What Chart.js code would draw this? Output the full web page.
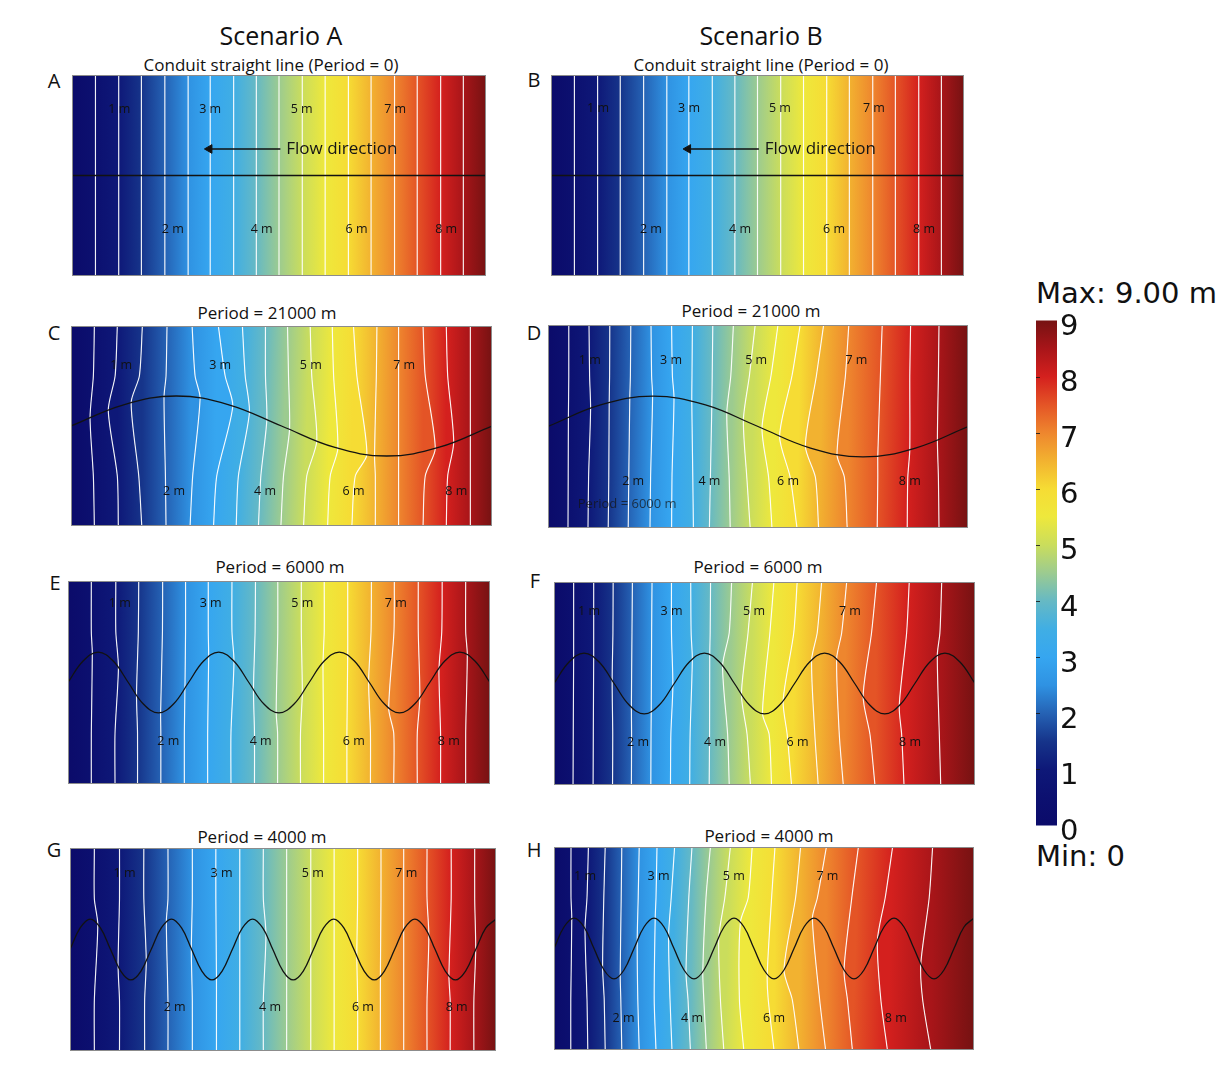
<!DOCTYPE html>
<html><head><meta charset="utf-8">
<script src="https://cdn.jsdelivr.net/npm/chart.js@4.4.1/dist/chart.umd.min.js"></script>
<style>
html,body{margin:0;padding:0;background:#fff;}
body{width:1223px;height:1090px;position:relative;overflow:hidden;font-family:"Open Sans",sans-serif;color:#111;}
.t{position:absolute;transform:translate(-50%,-50%);white-space:nowrap;line-height:1;}
.l{position:absolute;transform:translate(0,-50%);white-space:nowrap;line-height:1;font-family:"DejaVu Sans",sans-serif;font-size:29px;}
canvas{position:absolute;}
</style></head><body>
<div class="t" style="left:281px;top:35px;font-size:25px">Scenario A</div>
<div class="t" style="left:761px;top:35px;font-size:25px">Scenario B</div>
<div class="t" style="left:271px;top:64px;font-size:17px">Conduit straight line (Period = 0)</div>
<div class="t" style="left:761px;top:64px;font-size:17px">Conduit straight line (Period = 0)</div>
<div class="t" style="left:267px;top:312px;font-size:17px">Period = 21000 m</div>
<div class="t" style="left:751px;top:310px;font-size:17px">Period = 21000 m</div>
<div class="t" style="left:280px;top:566px;font-size:17px">Period = 6000 m</div>
<div class="t" style="left:758px;top:566px;font-size:17px">Period = 6000 m</div>
<div class="t" style="left:262px;top:836px;font-size:17px">Period = 4000 m</div>
<div class="t" style="left:769px;top:835px;font-size:17px">Period = 4000 m</div>
<div class="t" style="left:54px;top:81px;font-size:20px">A</div>
<div class="t" style="left:534px;top:80px;font-size:20px">B</div>
<div class="t" style="left:54px;top:333px;font-size:20px">C</div>
<div class="t" style="left:534px;top:333px;font-size:20px">D</div>
<div class="t" style="left:55px;top:583px;font-size:20px">E</div>
<div class="t" style="left:535px;top:581px;font-size:20px">F</div>
<div class="t" style="left:54px;top:850px;font-size:20px">G</div>
<div class="t" style="left:534px;top:850px;font-size:20px">H</div>
<div class="l" style="left:1036px;top:293px">Max: 9.00 m</div>
<div class="l" style="left:1036px;top:856px">Min: 0</div>

<canvas id="pA" width="414" height="201" style="left:72px;top:75px"></canvas>
<canvas id="pB" width="413" height="201" style="left:551px;top:75px"></canvas>
<canvas id="pC" width="421" height="200" style="left:71px;top:326px"></canvas>
<canvas id="pD" width="420" height="203" style="left:548px;top:325px"></canvas>
<canvas id="pE" width="422" height="203" style="left:68px;top:581px"></canvas>
<canvas id="pF" width="421" height="203" style="left:554px;top:582px"></canvas>
<canvas id="pG" width="426" height="203" style="left:70px;top:848px"></canvas>
<canvas id="pH" width="420" height="203" style="left:554px;top:847px"></canvas>
<canvas id="cbar" width="67" height="550" style="left:1030px;top:300px"></canvas>

<script>
// ---------- data (model units: x 0..21 km along flow, y 0..10 km across) ----------
const headLevels = [0.5,1,1.5,2,2.5,3,3.5,4,4.5,5,5.5,6,6.5,7,7.5,8,8.5];
const boundaryHeads = [0, 9];
const cmapValues = [0,0.5,1,1.5,2,2.5,3,3.5,4,4.5,5,5.5,6,6.5,7,7.5,8,8.5,9];
const cmapColors = ['#0b0b6a','#0c1070','#0e1878','#16348a','#2562b4','#2f92e2','#36a6f0','#40aee4','#66b9c4','#9ccb90','#cadd5c','#eee83c','#f6dc34','#f2b230','#ee862e','#e45426','#d4201e','#a81519','#761212'];
const colorbarTicks = [0,1,2,3,4,5,6,7,8,9];
const domainX = [0, 21];
const domainY = [0, 10];
const readLevelsY = [0, 2.5, 7.5, 10];

// conduit traces
const conduitX_P0 = [0, 21];
const conduitY_P0 = [5, 5];
const conduitX_P21 = [0,2.625,5.25,7.875,10.5,13.125,15.75,18.375,21];
const conduitY_P21 = [5,6.06,6.5,6.06,5,3.94,3.5,3.94,5];
const conduitX_P6 = [0,0.75,1.5,2.25,3,3.75,4.5,5.25,6,6.75,7.5,8.25,9,9.75,10.5,11.25,12,12.75,13.5,14.25,15,15.75,16.5,17.25,18,18.75,19.5,20.25,21];
const conduitY_P6 = [5,6.06,6.5,6.06,5,3.94,3.5,3.94,5,6.06,6.5,6.06,5,3.94,3.5,3.94,5,6.06,6.5,6.06,5,3.94,3.5,3.94,5,6.06,6.5,6.06,5];
const conduitX_P4 = [0,0.5,1,1.5,2,2.5,3,3.5,4,4.5,5,5.5,6,6.5,7,7.5,8,8.5,9,9.5,10,10.5,11,11.5,12,12.5,13,13.5,14,14.5,15,15.5,16,16.5,17,17.5,18,18.5,19,19.5,20,20.5,21];
const conduitY_P4 = [5,6.06,6.5,6.06,5,3.94,3.5,3.94,5,6.06,6.5,6.06,5,3.94,3.5,3.94,5,6.06,6.5,6.06,5,3.94,3.5,3.94,5,6.06,6.5,6.06,5,3.94,3.5,3.94,5,6.06,6.5,6.06,5,3.94,3.5,3.94,5,6.06,6.5];

// head contours: straight (x) or [xTop, x@7.5, xCross, yCross, x@2.5, xBottom]
const contoursA = [1.19,2.37,3.52,4.71,5.89,7.01,8.20,9.35,10.50,11.68,12.84,14.02,15.17,16.36,17.51,18.70,19.85];
const contoursB = [1.19,2.37,3.52,4.71,5.89,7.01,8.20,9.35,10.50,11.68,12.84,14.02,15.17,16.36,17.51,18.70,19.85];
const contoursC = [
 [1.165,1.115,0.95,5.42,1.115,1.165],[2.31,2.20,1.86,5.79,2.31,2.36],[3.56,3.41,3.00,6.17,3.38,3.53],
 [4.79,4.74,4.64,6.47,4.71,4.74],[6.04,6.19,6.44,6.41,6.07,5.94],[7.35,7.69,8.07,6.00,7.27,7.11],
 [8.55,8.69,8.90,5.69,8.35,8.24],[9.70,9.70,9.77,5.33,9.47,9.35],[10.80,10.85,10.90,4.82,10.60,10.47],
 [11.93,12.01,12.26,4.25,11.76,11.60],[13.03,13.10,13.31,3.88,12.93,12.80],[14.09,14.26,14.76,3.57,14.18,14.01],
 [15.26,15.23,15.14,3.52,15.18,15.18],[16.34,16.34,16.34,3.52,16.34,16.34],[17.56,17.67,18.17,3.87,17.67,17.56],
 [18.72,18.79,19.09,4.19,18.79,18.72],[19.92,19.92,19.92,4.53,19.92,19.92]];
const contoursD = [
 [1.04,1.04,1.02,5.44,1.01,1.00],[2.05,2.08,2.13,5.89,2.03,2.00],[3.09,3.08,3.06,6.19,3.04,3.01],
 [4.14,4.12,4.09,6.41,4.04,4.01],[5.15,5.18,5.23,6.50,5.13,5.10],[6.18,6.22,6.30,6.43,6.20,6.18],
 [7.22,7.20,7.19,6.25,7.24,7.27],[8.24,8.21,8.19,5.95,8.12,8.07],[9.27,9.14,8.94,5.67,9.06,9.11],
 [10.36,10.07,9.77,5.33,9.94,10.11],[11.50,11.15,10.70,4.91,11.03,11.20],[12.61,12.20,11.58,4.52,12.11,12.45],
 [13.78,13.42,12.87,4.03,13.37,13.53],[15.04,14.87,14.45,3.61,14.82,14.96],[16.71,16.62,16.49,3.54,16.49,16.46],
 [18.13,18.09,18.09,3.85,17.99,17.96],[19.55,19.52,19.47,4.34,19.52,19.55]];
const contoursE = [
 [1.16,1.16,1.21,6.43,1.16,1.16],[2.38,2.38,2.51,5.74,2.34,2.34],[3.52,3.50,3.41,4.38,3.46,3.46],
 [4.71,4.70,4.61,3.51,4.62,4.62],[5.85,5.85,5.82,4.72,5.79,5.79],[6.98,6.98,7.00,6.30,6.95,6.95],
 [8.16,8.16,8.26,6.05,8.11,8.11],[9.33,9.31,9.23,4.64,9.28,9.28],[10.44,10.44,10.36,3.52,10.43,10.43],
 [11.61,11.61,11.66,4.48,11.57,11.57],[12.75,12.75,12.69,5.92,12.72,12.72],[13.92,13.92,13.92,6.38,13.88,13.88],
 [15.10,15.08,14.96,5.05,15.05,15.05],[16.24,16.22,15.96,3.71,16.21,16.21],[17.43,17.43,17.51,4.25,17.38,17.38],
 [18.62,18.60,18.46,5.63,18.54,18.54],[19.79,19.79,19.87,6.39,19.79,19.79]];
const contoursF = [
 [0.98,0.98,0.98,6.28,0.96,0.95],[1.98,1.98,1.98,6.32,1.96,1.95],[2.95,2.94,2.90,5.16,2.93,2.92],
 [3.91,3.89,3.86,3.83,3.87,3.86],[4.89,4.87,4.85,3.59,4.84,4.83],[5.86,5.86,5.93,4.89,5.83,5.81],
 [6.82,6.84,6.90,6.21,6.79,6.77],[7.81,7.79,7.77,6.44,7.76,7.74],[8.86,8.74,8.41,5.87,8.66,8.74],
 [9.90,9.68,9.35,4.46,9.63,9.80],[10.97,10.77,10.40,3.52,10.73,10.85],[12.13,11.96,11.43,4.16,11.63,11.85],
 [13.35,13.13,12.85,6.16,13.01,13.18],[14.60,14.35,14.10,6.22,14.23,14.43],[16.09,15.84,15.42,4.36,15.76,16.01],
 [17.72,17.59,17.22,3.89,17.34,17.46],[19.34,19.25,19.12,6.40,19.22,19.29]];
const contoursG = [
 [1.20,1.20,1.37,6.25,1.20,1.20],[2.44,2.44,2.37,4.18,2.44,2.44],[3.64,3.64,3.76,4.44,3.68,3.68],
 [4.83,4.83,4.75,6.38,4.83,4.83],[6.03,6.03,5.98,4.95,6.03,6.03],[7.19,7.19,7.22,3.59,7.22,7.22],
 [8.37,8.37,8.37,5.82,8.37,8.37],[9.53,9.53,9.66,5.75,9.53,9.53],[10.68,10.68,10.68,3.68,10.68,10.68],
 [11.87,11.87,11.87,4.70,11.87,11.87],[13.02,13.02,13.02,6.50,13.02,13.02],[14.18,14.18,14.14,4.67,14.18,14.18],
 [15.33,15.33,15.30,3.57,15.30,15.30],[16.45,16.45,16.45,5.96,16.45,16.45],[17.60,17.60,17.69,5.69,17.60,17.60],
 [18.79,18.79,18.68,3.68,18.74,18.74],[19.95,19.95,20.00,5.00,19.91,19.91]];
const contoursH = [
 [0.85,0.85,0.89,6.48,0.84,0.84],[1.72,1.65,1.55,5.97,1.65,1.69],[2.56,2.49,2.43,4.07,2.51,2.56],
 [3.39,3.36,3.31,3.68,3.34,3.39],[4.26,4.21,4.16,5.37,4.19,4.26],[5.15,5.10,5.06,6.50,5.01,5.10],
 [6.03,5.86,5.73,5.62,5.80,5.90],[6.90,6.74,6.60,3.79,6.70,6.82],[7.82,7.60,7.44,3.84,7.49,7.62],
 [8.82,8.54,8.24,5.55,8.32,8.49],[9.91,9.71,9.32,6.31,9.27,9.49],[11.05,10.88,10.66,3.71,10.71,11.00],
 [12.33,12.08,11.50,3.94,11.91,12.25],[13.62,13.17,12.92,6.49,13.28,13.58],[15.22,14.89,14.50,3.94,14.67,14.92],
 [16.93,16.56,16.17,5.40,16.34,16.67],[18.93,18.76,18.34,4.24,18.43,18.84]];

// contour labels [text, x, y]
const labelsA = [['1 m',2.40,8.29],['3 m',7.01,8.29],['5 m',11.65,8.29],['7 m',16.39,8.29],['2 m',5.11,2.34],['4 m',9.62,2.34],['6 m',14.43,2.34],['8 m',18.98,2.34]];
const labelsB = [['1 m',2.39,8.35],['3 m',7.02,8.35],['5 m',11.64,8.35],['7 m',16.42,8.35],['2 m',5.08,2.3],['4 m',9.61,2.3],['6 m',14.39,2.3],['8 m',18.97,2.3]];
const labelsC = [['1 m',2.50,8.05],['3 m',7.44,8.05],['5 m',11.96,8.05],['7 m',16.62,8.05],['2 m',5.14,1.75],['4 m',9.68,1.75],['6 m',14.09,1.75],['8 m',19.22,1.75]];
const labelsD = [['1 m',2.09,8.24],['3 m',6.15,8.24],['5 m',10.41,8.24],['7 m',15.42,8.24],['2 m',4.26,2.31],['4 m',8.07,2.31],['6 m',12.0,2.31],['8 m',18.09,2.31]];
const labelsE = [['1 m',2.58,8.90],['3 m',7.10,8.90],['5 m',11.66,8.90],['7 m',16.31,8.90],['2 m',4.99,2.11],['4 m',9.59,2.11],['6 m',14.22,2.11],['8 m',18.95,2.11]];
const labelsF = [['1 m',1.75,8.55],['3 m',5.86,8.55],['5 m',9.98,8.55],['7 m',14.76,8.55],['2 m',4.19,2.09],['4 m',8.03,2.09],['6 m',12.15,2.09],['8 m',17.76,2.09]];
const labelsG = [['1 m',2.69,8.73],['3 m',7.47,8.73],['5 m',11.97,8.73],['7 m',16.58,8.73],['2 m',5.16,2.14],['4 m',9.86,2.14],['6 m',14.44,2.14],['8 m',19.06,2.14]];
const labelsH = [['1 m',1.55,8.53],['3 m',5.23,8.53],['5 m',8.99,8.53],['7 m',13.67,8.53],['2 m',3.48,1.54],['4 m',6.90,1.54],['6 m',11.0,1.54],['8 m',17.09,1.54]];
const notesD = [['Period = 6000 m',3.96,1.19]];

// flow arrow (tail x, head x, y) and caption
const flowArrowX = [10.57, 6.97];
const flowArrowY = 6.32;
const flowText = ['Flow direction', 10.87, 6.32];

// ---------- helpers ----------
function colorOf(v){ const i = cmapValues.indexOf(v); return cmapColors[i < 0 ? 0 : i]; }

function buildLines(contours){
  const lines = [{head: boundaryHeads[0], pts:[{x:domainX[0],y:domainY[0]},{x:domainX[0],y:domainY[1]}]}];
  contours.forEach((c, k) => {
    const pts = Array.isArray(c)
      ? [{x:c[5],y:readLevelsY[0]},{x:c[4],y:readLevelsY[1]},{x:c[2],y:c[3]},{x:c[1],y:readLevelsY[2]},{x:c[0],y:readLevelsY[3]}]
      : [{x:c,y:domainY[0]},{x:c,y:domainY[1]}];
    lines.push({head: headLevels[k], pts});
  });
  lines.push({head: boundaryHeads[1], pts:[{x:domainX[1],y:domainY[0]},{x:domainX[1],y:domainY[1]}]});
  return lines;
}

function bandFill(lines, i){
  return (c) => {
    const ch = c.chart, xs = ch.scales.x, ys = ch.scales.y;
    const a = lines[i-1], b = lines[i];
    if (!ch.chartArea || !xs || !ys) return colorOf(b.head);
    const px = p => ({x: xs.getPixelForValue(p.x), y: ys.getPixelForValue(p.y)});
    const lt = px(a.pts[a.pts.length-1]), lb = px(a.pts[0]);
    const rt = px(b.pts[b.pts.length-1]), rb = px(b.pts[0]);
    const dx = lb.x - lt.x, dy = lb.y - lt.y, len = Math.hypot(dx, dy) || 1;
    const nx = dy/len, ny = -dx/len;
    const m1x = (lt.x+lb.x)/2, m1y = (lt.y+lb.y)/2;
    const m2x = (rt.x+rb.x)/2, m2y = (rt.y+rb.y)/2;
    const w = (m2x-m1x)*nx + (m2y-m1y)*ny;
    if (!isFinite(w) || Math.abs(w) < 0.5) return colorOf(b.head);
    const g = ch.ctx.createLinearGradient(m1x, m1y, m1x+nx*w, m1y+ny*w);
    g.addColorStop(0, colorOf(a.head));
    g.addColorStop(1, colorOf(b.head));
    return g;
  };
}

function textPlugin(labels, notes, flow){
  return {
    id: 'panelText',
    afterDatasetsDraw(chart){
      const {ctx, scales:{x, y}} = chart;
      ctx.save();
      ctx.textAlign = 'center'; ctx.textBaseline = 'middle';
      ctx.font = '12.5px "Open Sans"'; ctx.fillStyle = '#111';
      labels.forEach(([t, vx, vy]) => ctx.fillText(t, x.getPixelForValue(vx), y.getPixelForValue(vy)));
      if (notes){
        ctx.font = '13px "Open Sans"'; ctx.fillStyle = 'rgba(20,20,20,0.72)';
        notes.forEach(([t, vx, vy]) => ctx.fillText(t, x.getPixelForValue(vx), y.getPixelForValue(vy)));
      }
      if (flow){
        ctx.textAlign = 'left'; ctx.font = '17px "Open Sans"'; ctx.fillStyle = '#151515';
        ctx.fillText(flow[0], x.getPixelForValue(flow[1]), y.getPixelForValue(flow[2]));
      }
      ctx.restore();
    },
    afterDraw(chart){
      const {ctx, chartArea:a} = chart;
      ctx.save(); ctx.strokeStyle = '#8c8c8c'; ctx.lineWidth = 1;
      ctx.strokeRect(a.left+0.5, a.top+0.5, a.right-a.left-1, a.bottom-a.top-1);
      ctx.restore();
    }
  };
}

function makePanel(id, contours, cx, cy, labels, notes, withFlow){
  const lines = buildLines(contours);
  const last = lines.length - 1;
  const datasets = lines.map((ln, i) => ({
    data: ln.pts,
    borderColor: (i===0 || i===last) ? 'rgba(0,0,0,0)' : 'rgba(255,255,255,0.92)',
    borderWidth: (i===0 || i===last) ? 0 : 1.15,
    tension: 0.25,
    fill: i===0 ? false : '-1',
    backgroundColor: i===0 ? 'rgba(0,0,0,0)' : bandFill(lines, i),
    pointRadius: 0,
    order: 2
  }));
  datasets.push({
    data: cx.map((x, j) => ({x, y: cy[j]})),
    borderColor: '#121212', borderWidth: 1.3, tension: 0.4, fill: false, pointRadius: 0, order: -1
  });
  if (withFlow){
    datasets.push({
      data: [{x: flowArrowX[0], y: flowArrowY}, {x: flowArrowX[1], y: flowArrowY}],
      borderColor: '#111', borderWidth: 1.6, tension: 0, fill: false,
      pointRadius: [0, 5], pointStyle: 'triangle', rotation: -90,
      pointBackgroundColor: '#111', pointBorderColor: '#111', pointBorderWidth: 1, order: -2
    });
  }
  new Chart(document.getElementById(id), {
    type: 'line',
    data: {datasets},
    options: {
      indexAxis: 'y', responsive: false, animation: false, events: [], devicePixelRatio: 1,
      layout: {padding: 0, autoPadding: false},
      scales: {
        x: {type: 'linear', min: domainX[0], max: domainX[1], display: false},
        y: {type: 'linear', min: domainY[0], max: domainY[1], display: false}
      },
      plugins: {legend: {display: false}, tooltip: {enabled: false}, title: {display: false},
        filler: {drawTime: 'beforeDatasetsDraw', propagate: false}}
    },
    plugins: [textPlugin(labels, notes, withFlow ? flowText : null)]
  });
}

makePanel('pA', contoursA, conduitX_P0, conduitY_P0, labelsA, null, true);
makePanel('pB', contoursB, conduitX_P0, conduitY_P0, labelsB, null, true);
makePanel('pC', contoursC, conduitX_P21, conduitY_P21, labelsC, null, false);
makePanel('pD', contoursD, conduitX_P21, conduitY_P21, labelsD, notesD, false);
makePanel('pE', contoursE, conduitX_P6, conduitY_P6, labelsE, null, false);
makePanel('pF', contoursF, conduitX_P6, conduitY_P6, labelsF, null, false);
makePanel('pG', contoursG, conduitX_P4, conduitY_P4, labelsG, null, false);
makePanel('pH', contoursH, conduitX_P4, conduitY_P4, labelsH, null, false);

// ---------- colour bar ----------
const tickDash = {
  id: 'tickDash',
  afterDatasetsDraw(chart){
    const {ctx, chartArea:a, scales:{y}} = chart;
    ctx.save(); ctx.strokeStyle = 'rgba(25,25,25,0.85)'; ctx.lineWidth = 1;
    colorbarTicks.slice(1, -1).forEach(v => {
      const py = Math.round(y.getPixelForValue(v)) + 0.5;
      ctx.beginPath(); ctx.moveTo(a.left, py); ctx.lineTo(a.left + 4, py); ctx.stroke();
    });
    ctx.restore();
  }
};
new Chart(document.getElementById('cbar'), {
  type: 'bar',
  data: {labels: ['head'], datasets: [{
    data: [[cmapValues[0], cmapValues[cmapValues.length-1]]],
    borderWidth: 0, barPercentage: 1, categoryPercentage: 1,
    backgroundColor: (c) => {
      const ch = c.chart, ys = ch.scales.y;
      if (!ch.chartArea || !ys) return cmapColors[8];
      const y0 = ys.getPixelForValue(cmapValues[0]), y1 = ys.getPixelForValue(cmapValues[cmapValues.length-1]);
      const g = ch.ctx.createLinearGradient(0, y0, 0, y1);
      const span = cmapValues[cmapValues.length-1] - cmapValues[0];
      cmapValues.forEach((v, i) => g.addColorStop((v - cmapValues[0]) / span, cmapColors[i]));
      return g;
    }
  }]},
  options: {
    responsive: false, animation: false, events: [], devicePixelRatio: 1,
    layout: {padding: {left: 6, top: 18.6, bottom: 24.4, right: 0}, autoPadding: false},
    scales: {
      x: {display: false},
      y: {position: 'right', min: 0, max: 9,
        afterFit: s => { s.width = 40; },
        grid: {display: false, drawTicks: false}, border: {display: false},
        ticks: {stepSize: 1, autoSkip: false, padding: 3, labelOffset: 7, color: '#111',
          font: {family: 'DejaVu Sans', size: 29}, callback: v => String(v)}
      }
    },
    plugins: {legend: {display: false}, tooltip: {enabled: false}}
  },
  plugins: [tickDash]
});
</script>
</body></html>
